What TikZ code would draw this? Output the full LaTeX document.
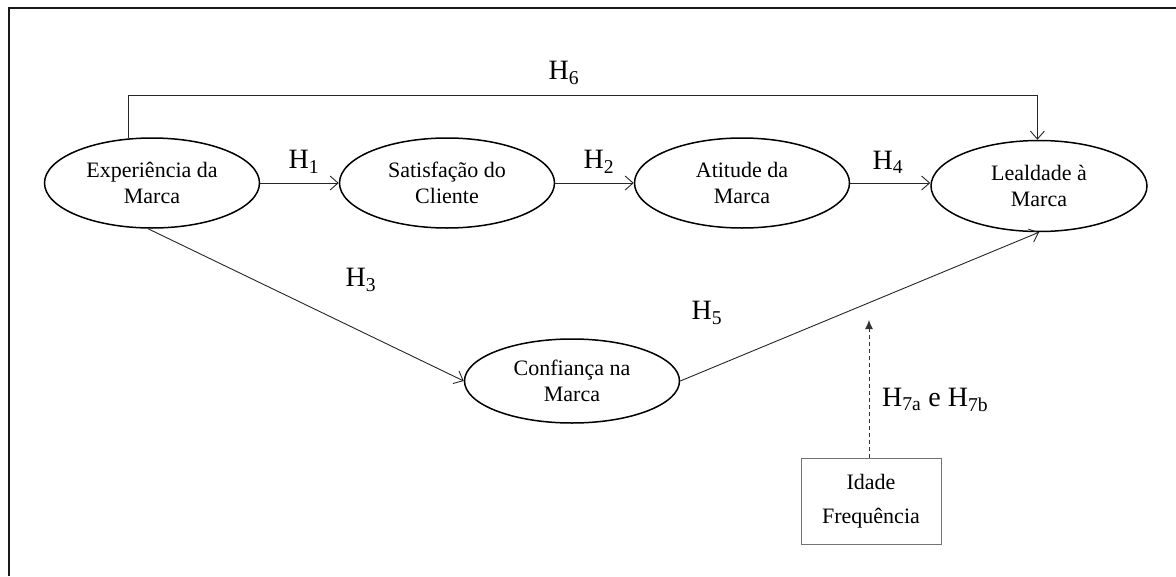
\documentclass[tikz,border=0pt]{standalone}
\usepackage{fontspec}
\setmainfont{Liberation Serif}
\usetikzlibrary{shapes.geometric,arrows.meta,calc}
\tikzset{
  construct/.style={ellipse,draw=black,line width=1.5pt,minimum width=215pt,minimum height=90pt,inner sep=0pt,align=center,font=\fontsize{22}{26}\selectfont},
  arr/.style={draw=black!85,line width=0.9pt,-{Straight Barb[length=8pt,width=14pt,line width=0.9pt]}},
  modarr/.style={draw=black!80,line width=1pt,dash pattern=on 4pt off 3pt,-{Latex[length=9pt,width=8pt]}},
  hlab/.style={font=\fontsize{28}{30}\selectfont,inner sep=0pt},
  modbox/.style={draw=black!55,line width=1pt,minimum width=140pt,minimum height=86pt,inner sep=0pt,align=center,font=\fontsize{22}{34}\selectfont}
}
\begin{document}
\begin{tikzpicture}[x=1pt,y=-1pt]
\useasboundingbox (0,0) rectangle (1176,576);
\fill[white] (0,0) rectangle (1176,576);
\draw[line width=2.2pt,black!90] (9,576) -- (9,8) -- (1176,8);

\node[construct] (exp) at (152,183) {Experiência da\\Marca};
\node[construct] (sat) at (447,183) {Satisfação do\\Cliente};
\node[construct] (ati) at (742,183) {Atitude da\\Marca};
\node[construct,minimum width=216pt,minimum height=91pt] (leal) at (1039,186) {Lealdade à\\Marca};
\node[construct,minimum height=84pt] (conf) at (572,381) {Confiança na\\Marca};
\node[modbox] (mod) at (871,501) {Idade\\Frequência};
\coordinate (h6) at (0,95);
\coordinate (modend) at (869,320);

\draw[arr] (exp.east) -- (sat.west);
\draw[arr] (sat.east) -- (ati.west);
\draw[arr] (ati.east) -- (ati.east -| leal.west);
\draw[arr] (exp.118) -- (exp.118 |- h6) -- (leal.92 |- h6) -- (leal.92);
\draw[arr] (exp.265) -- (conf.west);
\draw[arr] (conf.east) -- (leal.south);
\draw[modarr] (mod.north -| modend) -- (modend);

\node[hlab] (l1) at (304,162) {H\textsubscript{1}};
\node[hlab] (l2) at (599,162) {H\textsubscript{2}};
\node[hlab] (l4) at (888,162) {H\textsubscript{4}};
\node[hlab] (l6) at (564,73) {H\textsubscript{6}};
\node[hlab] (l3) at (361,280) {H\textsubscript{3}};
\node[hlab] (l5) at (707,313) {H\textsubscript{5}};
\node[hlab,anchor=west] (l7) at (882,400) {H\textsubscript{7a} e H\textsubscript{7b}};
\end{tikzpicture}
\end{document}
